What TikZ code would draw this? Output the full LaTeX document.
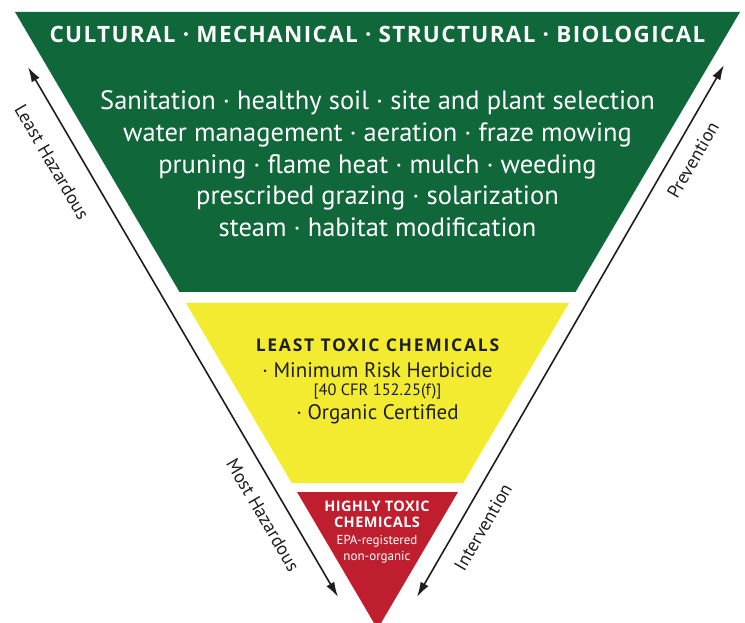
\documentclass[tikz,border=0pt]{standalone}
\usepackage{fontspec}
\setmainfont{PT Sans}
\newfontfamily\capsfont{Open Sans}
\usetikzlibrary{calc,arrows.meta}
\definecolor{ipmgreen}{RGB}{16,104,58}
\definecolor{ipmyellow}{RGB}{243,235,48}
\definecolor{ipmred}{RGB}{190,30,46}
\definecolor{ipmink}{RGB}{30,30,30}
\begin{document}
\begin{tikzpicture}[x=1pt,y=-1pt,
    tier/.style={align=center,inner sep=0pt},
    line/.style={inner sep=0pt,anchor=base},
    sidelabel/.style={text=ipmink,font=\fontsize{18.5}{18.5}\selectfont,inner sep=0pt},
    axis/.style={{Latex[length=15pt,width=9pt]}-{Latex[length=15pt,width=9pt]},line width=1.6pt,ipmink}]
    \useasboundingbox(0,0)rectangle(745,623);
    \clip(0,0)rectangle(745,623);
    \coordinate(L)at(15,12);
    \coordinate(R)at(740,12);
    \coordinate(A)at(377.5,629);
    % the three tiers
    \fill[ipmgreen](L)--(R)--($(R)!0.4538!(A)$)--($(L)!0.4538!(A)$)--cycle;
    \fill[ipmyellow]($(L)!0.4716!(A)$)--($(R)!0.4716!(A)$)--($(R)!0.7634!(A)$)--($(L)!0.7634!(A)$)--cycle;
    \fill[ipmred]($(L)!0.778!(A)$)--($(R)!0.778!(A)$)--(A)--cycle;
    % green tier
    \node[line,text=white,font=\capsfont\bfseries\fontsize{22.5}{22.5}\selectfont\addfontfeatures{LetterSpace=6}](methods)at(377.5,43){CULTURAL · MECHANICAL · STRUCTURAL · BIOLOGICAL};
    \node[tier,text=white,font=\fontsize{26.5}{31.7}\selectfont](practices)at(377.5,164){Sanitation · healthy soil · site and plant selection\\
      water management · aeration · fraze mowing\\
      pruning · flame heat · mulch · weeding\\
      prescribed grazing · solarization\\
      steam · habitat modification};
    % yellow tier
    \node[line,text=ipmink,font=\capsfont\bfseries\fontsize{17.5}{17.5}\selectfont\addfontfeatures{LetterSpace=10}](least)at(377.5,351){LEAST TOXIC CHEMICALS};
    \node[line,text=ipmink,font=\fontsize{21}{21}\selectfont](minrisk)at(377.5,377){· Minimum Risk Herbicide};
    \node[line,text=ipmink,font=\fontsize{16.4}{16.4}\selectfont](cfr)at(377.5,395){[40 CFR 152.25(f)]};
    \node[line,text=ipmink,font=\fontsize{21}{21}\selectfont](organic)at(377.5,419){· Organic Certified};
    % red tier
    \node[line,text=white,font=\capsfont\bfseries\fontsize{14.5}{14.5}\selectfont\addfontfeatures{LetterSpace=3}](highly)at(377,511){HIGHLY TOXIC};
    \node[line,text=white,font=\capsfont\bfseries\fontsize{14.5}{14.5}\selectfont\addfontfeatures{LetterSpace=3}](chem)at(377,527){CHEMICALS};
    \node[line,text=white,font=\fontsize{13}{13}\selectfont](epa)at(377,544){EPA-registered};
    \node[line,text=white,font=\fontsize{13}{13}\selectfont](nonorg)at(377,560){non-organic};
    % side arrows
    \coordinate(LT)at(28,67);
    \coordinate(LB)at(338,597);
    \coordinate(RT)at(724,65);
    \coordinate(RB)at(417,597);
    \draw[axis](LT)--(LB);
    \draw[axis](RT)--(RB);
    \node[sidelabel,rotate=-59.7](leasthaz)at(52,162){Least Hazardous};
    \node[sidelabel,rotate=-59.7](mosthaz)at(263,515){Most Hazardous};
    \node[sidelabel,rotate=60](prev)at(693,160){Prevention};
    \node[sidelabel,rotate=60](interv)at(483,527){Intervention};
\end{tikzpicture}
\end{document}
